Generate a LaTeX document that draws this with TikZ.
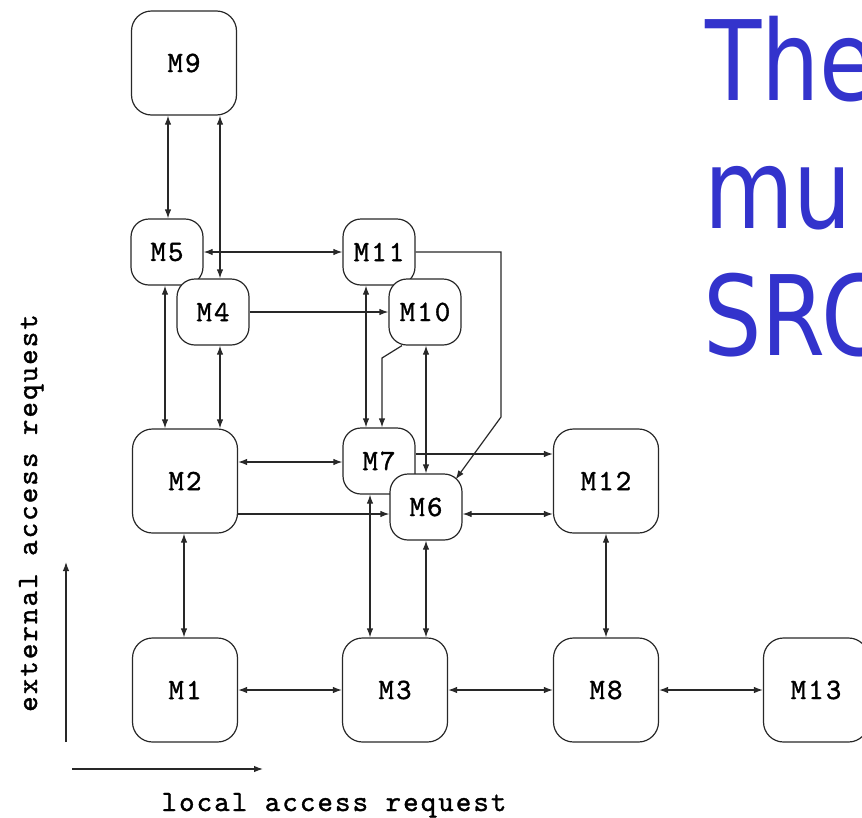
\documentclass[tikz,border=0pt]{standalone}
\usepackage{fontspec}
\setmonofont[LetterSpace=7,FakeBold=1.2]{lmmono10-regular.otf}
\newfontfamily\titlefont{DejaVu Sans}
\usetikzlibrary{arrows.meta}
\definecolor{titleblue}{RGB}{51,51,204}
\definecolor{ink}{RGB}{40,40,40}
\begin{document}
\begin{tikzpicture}[x=1pt,y=-1pt,
  every node/.style={font=\ttfamily\fontsize{29.5}{29.5}\selectfont, text=black},
  bigbox/.style={draw=ink, line width=1.2pt, fill=white, rounded corners=20pt,
    minimum width=105pt, minimum height=104pt, inner sep=0pt},
  smallbox/.style={draw=ink, line width=1.2pt, fill=white, rounded corners=18pt,
    minimum width=72pt, minimum height=66pt, inner sep=0pt},
  twoway/.style={draw=ink, line width=1.2pt,
    {Latex[length=9pt,width=6.5pt]}-{Latex[length=9pt,width=6.5pt]}},
  oneway/.style={draw=ink, line width=1.2pt, -{Latex[length=9pt,width=6.5pt]}},
  titletext/.style={font=\titlefont\fontsize{111}{127}\selectfont, text=titleblue,
    anchor=base west, inner sep=0pt, xscale=0.83, transform shape}
]
\useasboundingbox (0,0) rectangle (862,817);
\clip (0,0) rectangle (862,817);

% nodes
\node[bigbox]   (M9)  at (184,63)  {M9};
\node[smallbox] (M5)  at (167,252) {M5};
\node[smallbox] (M4)  at (213,312) {M4};
\node[smallbox] (M11) at (379,252) {M11};
\node[smallbox] (M10) at (425,312) {M10};
\node[bigbox]   (M2)  at (185,481) {M2};
\node[smallbox] (M7)  at (379,461) {M7};
\node[smallbox] (M6)  at (426,507) {M6};
\node[bigbox]   (M12) at (606,481) {M12};
\node[bigbox]   (M1)  at (185,690) {M1};
\node[bigbox]   (M3)  at (395,690) {M3};
\node[bigbox]   (M8)  at (606,690) {M8};
\node[bigbox]   (M13) at (816,690) {M13};

% connectors
\draw[twoway] (M9.south -| 168,0) -- (M5.north -| 168,0);
\draw[twoway] (M9.south -| 220,0) -- (M4.north -| 220,0);
\draw[twoway] (M5.east) -- (M11.west);
\draw[oneway] (M4.east) -- (M10.west);
\draw[twoway] (M5.south -| 165,0) -- (M2.north -| 165,0);
\draw[twoway] (M4.south -| 220,0) -- (M2.north -| 220,0);
\draw[twoway] (M11.south -| 366,0) -- (M7.north -| 366,0);
\draw[oneway] ([xshift=-23pt]M10.south) -- (382,358) -- (M7.north -| 382,0);
\draw[twoway] (M10.south -| 426,0) -- (M6.north -| 426,0);
\draw[oneway] (M11.east) -- (501,252) -- (501,417) -- ([xshift=-7pt,yshift=-6pt]M6.north east);
\draw[twoway] (M2.east |- 0,462) -- (M7.west |- 0,462);
\draw[oneway] (M2.east |- 0,514) -- (M6.west |- 0,514);
\draw[oneway] (M7.east |- 0,454) -- (M12.west |- 0,454);
\draw[twoway] (M6.east |- 0,514) -- (M12.west |- 0,514);
\draw[twoway] (M2.south -| 184,0) -- (M1.north -| 184,0);
\draw[twoway] (M7.south -| 370,0) -- (M3.north -| 370,0);
\draw[twoway] (M6.south -| 426,0) -- (M3.north -| 426,0);
\draw[twoway] (M12.south) -- (M8.north);
\draw[twoway] (M1.east) -- (M3.west);
\draw[twoway] (M3.east) -- (M8.west);
\draw[twoway] (M8.east) -- (M13.west);

% axes
\coordinate (ya) at (66,742);
\coordinate (yb) at (66,562);
\coordinate (xa) at (72,769);
\coordinate (xb) at (263,769);
\draw[oneway] (ya) -- (yb);
\draw[oneway] (xa) -- (xb);
\node[rotate=90, anchor=base] (ylab) at (37,513) {external access request};
\node[anchor=base] (xlab) at (334,811) {local access request};

% title
\node[titletext] (t1) at (705,100) {The};
\node[titletext] (t2) at (704,228) {mu};
\node[titletext] (t3) at (703,355) {SRC};
\end{tikzpicture}
\end{document}
